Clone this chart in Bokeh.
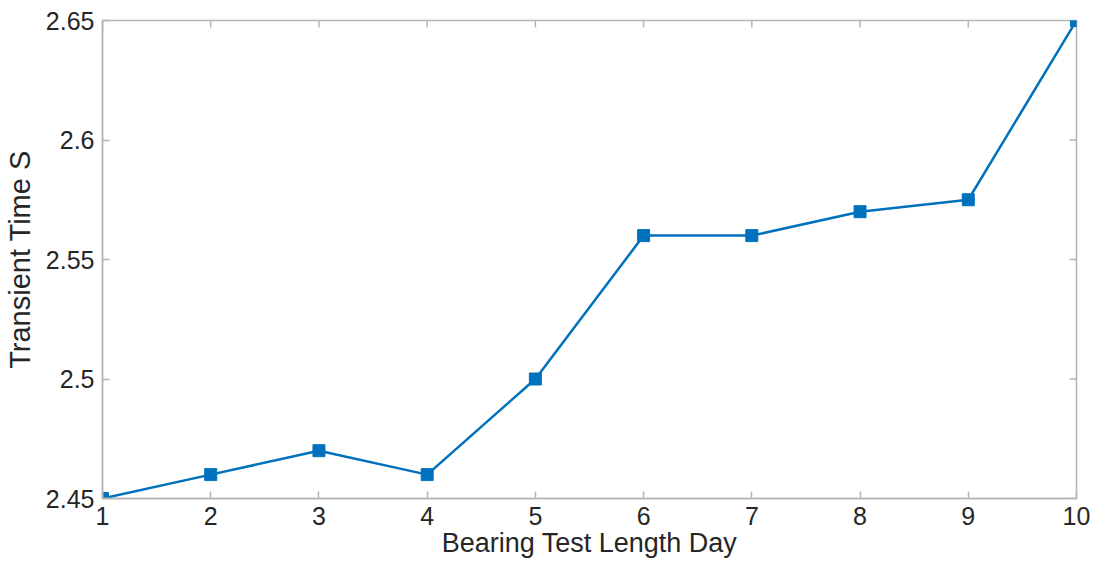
import math
from bokeh.plotting import figure
from bokeh.models import Range1d, FixedTicker
from bokeh.embed import file_html
from bokeh.resources import INLINE

days = [1, 2, 3, 4, 5, 6, 7, 8, 9, 10]
transient_time = [2.45, 2.46, 2.47, 2.46, 2.50, 2.56, 2.56, 2.57, 2.575, 2.65]
x_ticks = [1, 2, 3, 4, 5, 6, 7, 8, 9, 10]
y_ticks = [2.45, 2.5, 2.55, 2.6, 2.65]
y_tick_labels = ["2.45", "2.5", "2.55", "2.6", "2.65"]
x_min, x_max = 1, 10
y_min, y_max = 2.45, 2.65

FONT = "Liberation Sans"
TXT = "#262626"
AX = "#b5b5b5"
BLUE = "#0072BD"

p = figure(width=1090, height=560, output_backend="svg", toolbar_location=None,
           x_range=Range1d(x_min, x_max), y_range=Range1d(y_min, y_max),
           min_border_left=101, min_border_top=20, min_border_right=14, min_border_bottom=60)
p.grid.visible = False
p.outline_line_color = AX
p.outline_line_width = 1.5
p.background_fill_color = "white"
p.border_fill_color = "white"

# mirrored inward tick marks on the top and right sides (half of each dash is clipped by the frame)
p.scatter(x_ticks, [y_max] * len(x_ticks), marker="dash", size=14, angle=math.pi / 2,
          line_color=AX, line_width=1.5)
p.scatter([x_max] * len(y_ticks), y_ticks, marker="dash", size=14,
          line_color=AX, line_width=1.5)

p.line(days, transient_time, line_color=BLUE, line_width=2.5)
p.scatter(days, transient_time, marker="square", size=12, fill_color=BLUE, line_color=BLUE)


def style(ax):
    ax.axis_line_color = AX
    ax.axis_line_width = 1.5
    ax.major_tick_line_color = AX
    ax.major_tick_line_width = 1.5
    ax.major_tick_in = 7
    ax.major_tick_out = 0
    ax.minor_tick_line_color = None
    ax.major_label_text_font = FONT
    ax.major_label_text_color = TXT
    ax.major_label_text_font_size = "25px"
    ax.axis_label_text_font = FONT
    ax.axis_label_text_color = TXT
    ax.axis_label_text_font_style = "normal"


xa = p.xaxis[0]
ya = p.yaxis[0]
style(xa)
style(ya)

xa.ticker = FixedTicker(ticks=x_ticks)
xa.axis_label = "Bearing Test Length Day"
xa.axis_label_text_font_size = "27px"
xa.major_label_standoff = 8
xa.axis_label_standoff = 0

ya.ticker = FixedTicker(ticks=y_ticks)
ya.major_label_overrides = {t: s for t, s in zip(y_ticks, y_tick_labels)}
ya.axis_label = "Transient Time S"
ya.axis_label_text_font_size = "29px"
ya.major_label_standoff = 8
ya.axis_label_standoff = 7

open("out.html", "w").write(file_html(p, INLINE))
